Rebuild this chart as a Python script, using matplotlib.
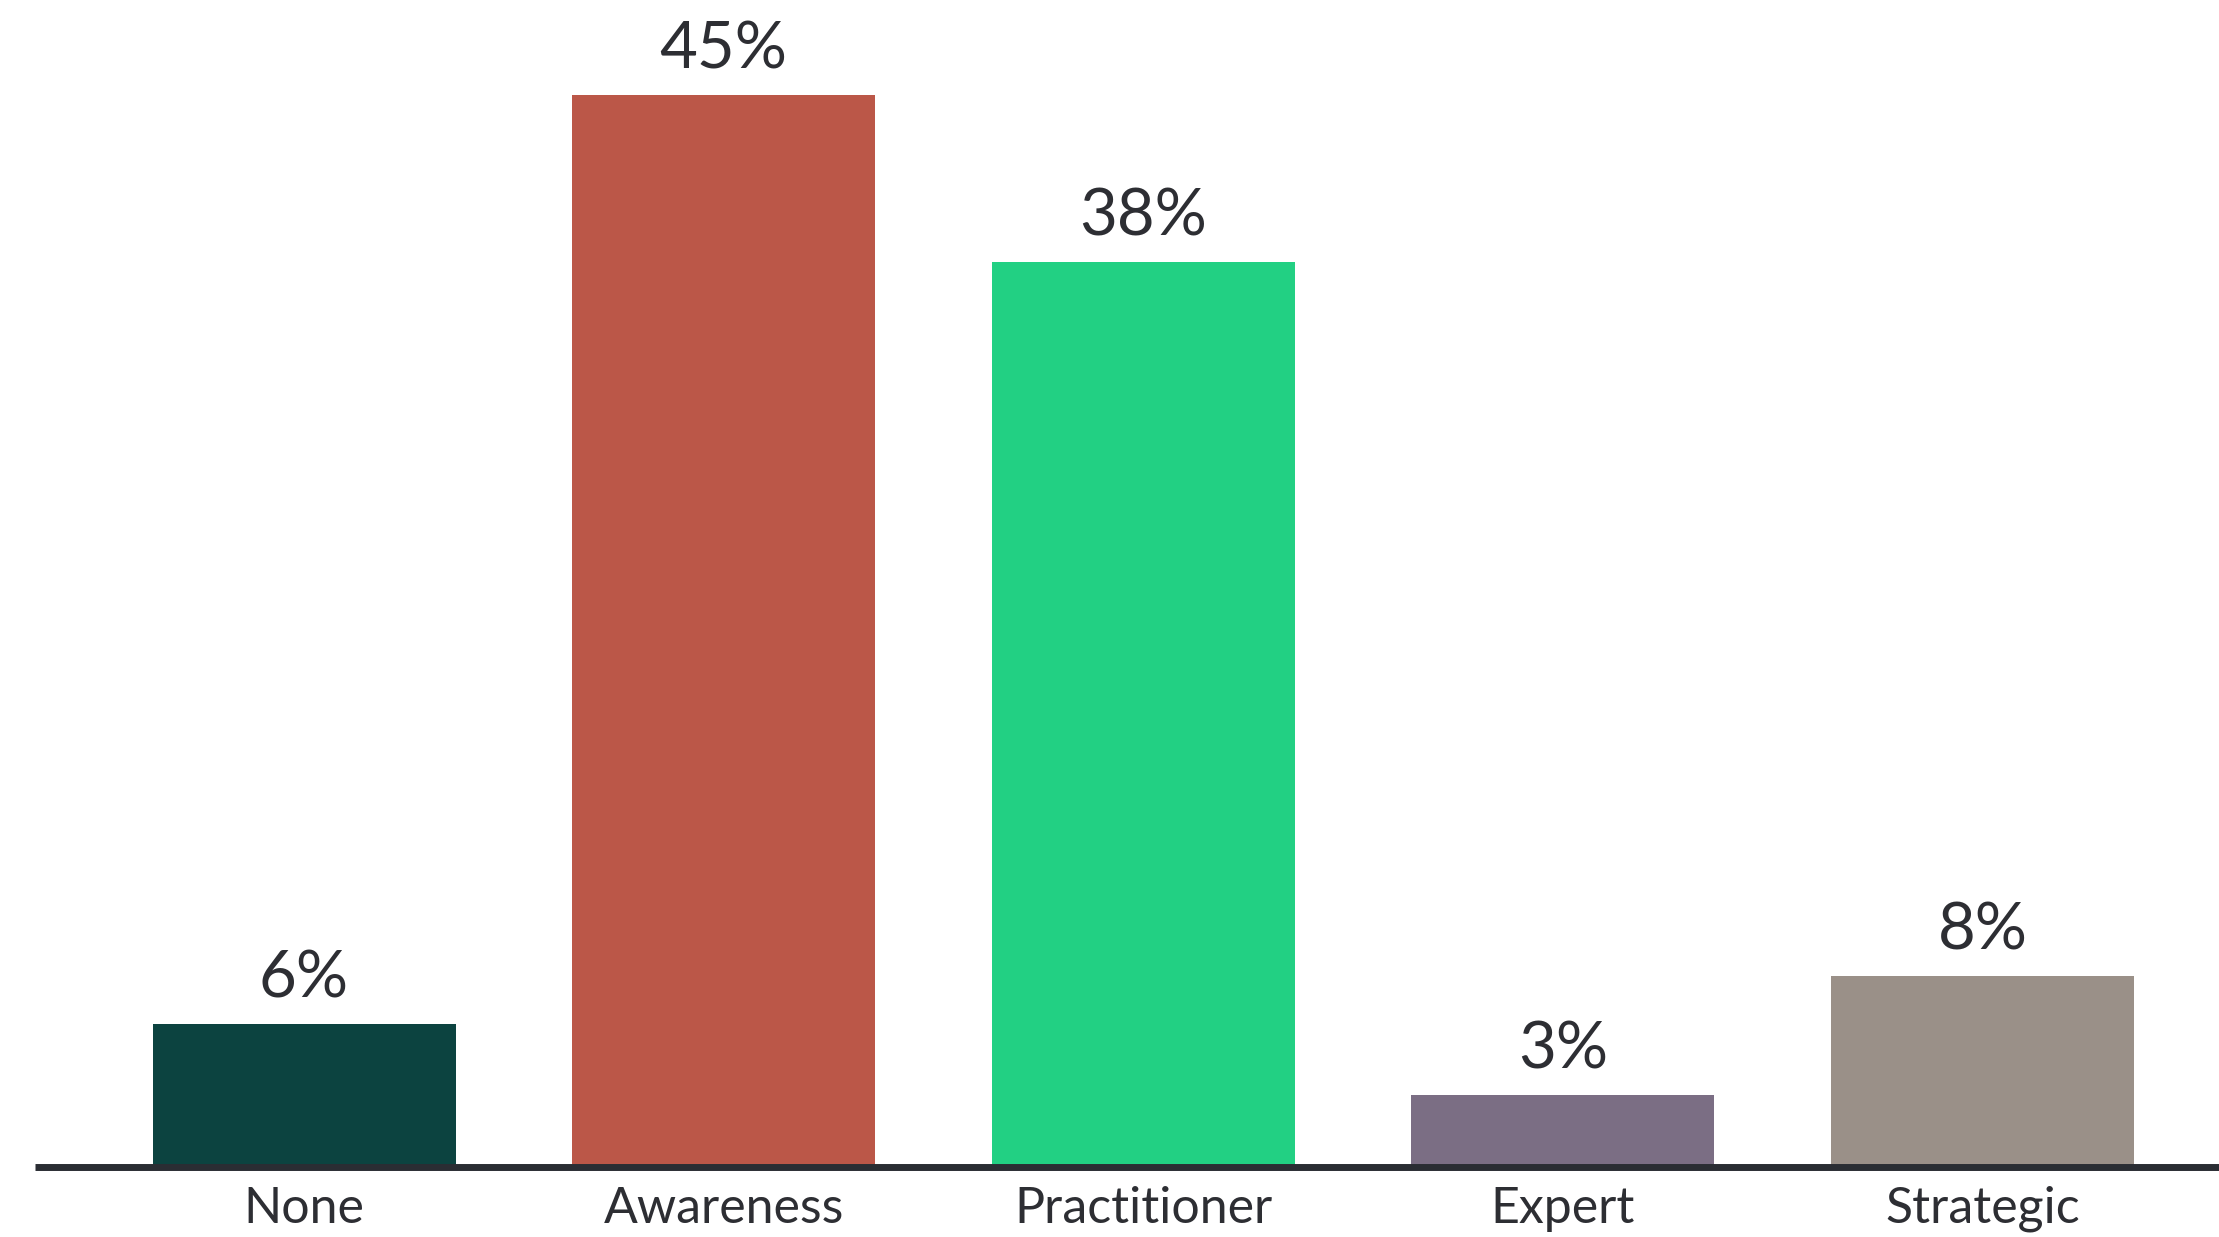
import matplotlib.pyplot as plt

categories = ['None', 'Awareness', 'Practitioner', 'Expert', 'Strategic']
values = [6, 45, 38, 3, 8]
colors = ['#0c4340', '#bb5748', '#22d083', '#7b6e84', '#9a9088']

plt.rcParams['font.family'] = ['Lato', 'DejaVu Sans']

W, H = 2219, 1237
base_px = 1166.5
left_px = 35
fig = plt.figure(figsize=(W / 100, H / 100), dpi=100)
ax = fig.add_axes([left_px / W, (H - base_px) / H, 1 - left_px / W, base_px / H])

x = range(len(categories))
ax.bar(x, values, width=0.722, color=colors)

for xi, v in zip(x, values):
    ax.annotate(f'{v}%', (xi, v), xytext=(0, 19), textcoords='offset points',
                ha='center', va='baseline', fontsize=47, color='#2d2e33')

# bar centres at 304 px, pitch ~419.6 px
ax.set_xlim(-(304 - left_px) / 419.6, 4 + (W - 1982.6) / 419.6)
ax.set_ylim(0, 49.0)
ax.set_xticks(list(x))
ax.set_xticklabels(categories, fontsize=36, color='#2d2e33')
ax.tick_params(axis='x', length=0, pad=14)
ax.set_yticks([])
for s in ['top', 'right', 'left']:
    ax.spines[s].set_visible(False)
ax.spines['bottom'].set_linewidth(5)
ax.spines['bottom'].set_color('#2a2d33')
ax.spines['bottom'].set_capstyle('butt')

fig.savefig('out.png', dpi=100)
